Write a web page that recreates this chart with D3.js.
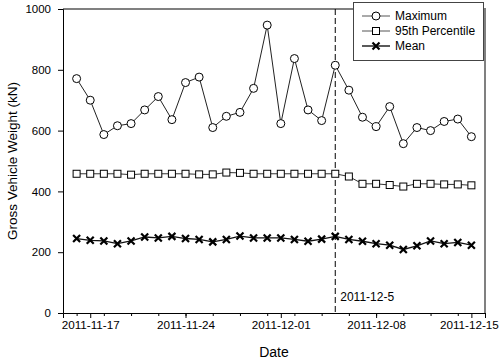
<!DOCTYPE html>
<html><head><meta charset="utf-8">
<script src="https://cdn.jsdelivr.net/npm/d3@7"></script>
<style>body{margin:0;background:#fff}svg{font-family:"Liberation Sans",Arial,sans-serif}</style>
</head><body><svg id="c" width="500" height="361"></svg>
<script>
const startDate = "2011-11-16";
const maximum = [771,700,587,616,623,668,712,636,758,776,610,647,660,739,947,623,837,668,633,815,733,644,613,679,557,610,600,630,638,580];
const p95 = [458,458,458,458,455,458,458,458,458,456,456,462,461,458,458,458,458,458,458,458,449,425,425,421,416,425,425,423,423,420];
const mean = [245,239,237,228,237,250,247,252,245,242,234,242,253,247,247,247,242,236,243,252,242,236,228,223,209,221,237,228,232,223];
const majorTickLabels = ["2011-11-17","2011-11-24","2011-12-01","2011-12-08","2011-12-15"];
const yTicks = [0,200,400,600,800,1000];
const eventDate = "2011-12-05";
const legendLabels = ["Maximum","95th Percentile","Mean"];

const parse = d3.timeParse("%Y-%m-%d");
const t0 = parse(startDate);
const dates = maximum.map((_, i) => d3.timeDay.offset(t0, i));
const svg = d3.select("#c");
const L = 63, R = 485, T = 9, B = 313;
const x = d3.scaleTime().domain([parse("2011-11-15"), parse("2011-12-16")]).range([L, R]);
const y = d3.scaleLinear().domain([0, 1000]).range([B, T]);

// frame top/right (grey)
svg.append("line").attr("x1", L).attr("x2", R).attr("y1", T).attr("y2", T).attr("stroke", "#808080").attr("stroke-width", 2);
svg.append("line").attr("x1", R).attr("x2", R).attr("y1", T - 1).attr("y2", B).attr("stroke", "#808080").attr("stroke-width", 2);

// y axis
const ya = svg.append("g").attr("transform", `translate(${L},0)`)
  .call(d3.axisLeft(y).tickValues(yTicks).tickSize(5).tickPadding(7).tickFormat(d3.format("d")));
ya.select(".domain").attr("stroke", "#000");
ya.selectAll("text").attr("font-size", 11.5).attr("font-family", "Liberation Sans, Arial").attr("fill", "#000");

// x axis minor ticks
const minor = d3.timeDay.range(parse("2011-11-16"), parse("2011-12-17"), 2);
const xm = svg.append("g").attr("transform", `translate(0,${B})`)
  .call(d3.axisBottom(x).tickValues(minor).tickSize(3).tickFormat(""));
xm.select(".domain").remove();
const majors = majorTickLabels.map(parse);
const xa = svg.append("g").attr("transform", `translate(0,${B})`)
  .call(d3.axisBottom(x).tickValues(majors).tickSize(5).tickPadding(3).tickFormat(d3.timeFormat("%Y-%m-%d")));
xa.select(".domain").attr("stroke", "#000");
xa.selectAll("text").attr("font-size", 11.7).attr("font-family", "Liberation Sans, Arial").attr("fill", "#000");
xa.selectAll(".tick:last-of-type text").attr("dx", -2.5);

// axis titles
svg.append("text").attr("x", 274).attr("y", 357).attr("text-anchor", "middle").attr("font-size", 14).text("Date");
svg.append("text").attr("transform", `translate(17,${(T + B) / 2}) rotate(-90)`).attr("text-anchor", "middle").attr("font-size", 13.5).text("Gross Vehicle Weight (kN)");

// event line
const ex = x(parse(eventDate));
svg.append("line").attr("x1", ex).attr("x2", ex).attr("y1", T).attr("y2", B).attr("stroke", "#000").attr("stroke-width", 1).attr("stroke-dasharray", "6,3");
svg.append("text").attr("x", ex + 5).attr("y", 301).attr("font-size", 12).text("2011-12-5");

const line = d3.line().x((d, i) => x(dates[i])).y(d => y(d));
function series(vals, color, w) {
  svg.append("path").datum(vals).attr("d", line).attr("fill", "none").attr("stroke", color).attr("stroke-width", w);
}
series(maximum, "#222", 1);
series(p95, "#333", 1);
series(mean, "#111", 1.3);

function circle(g, cx, cy) { g.append("circle").attr("cx", cx).attr("cy", cy).attr("r", 4).attr("fill", "#fff").attr("stroke", "#000").attr("stroke-width", 1); }
function square(g, cx, cy) { g.append("rect").attr("x", cx - 3.5).attr("y", cy - 3.5).attr("width", 7).attr("height", 7).attr("fill", "#fff").attr("stroke", "#000").attr("stroke-width", 1); }
function cross(g, cx, cy) { g.append("path").attr("d", `M${cx-3.5},${cy-3.5}L${cx+3.5},${cy+3.5}M${cx-3.5},${cy+3.5}L${cx+3.5},${cy-3.5}`).attr("stroke", "#000").attr("stroke-width", 2.2); }

const gm = svg.append("g");
maximum.forEach((v, i) => circle(gm, x(dates[i]), y(v)));
p95.forEach((v, i) => square(gm, x(dates[i]), y(v)));
mean.forEach((v, i) => cross(gm, x(dates[i]), y(v)));

// legend
const lg = svg.append("g");
lg.append("rect").attr("x", 353.5).attr("y", 2.5).attr("width", 130).attr("height", 58).attr("fill", "#fff").attr("stroke", "#444").attr("stroke-width", 1);
const markers = [circle, square, cross];
const colors = ["#555", "#555", "#000"];
legendLabels.forEach((lab, i) => {
  const yy = 16 + i * 15;
  lg.append("line").attr("x1", 362).attr("x2", 390).attr("y1", yy).attr("y2", yy).attr("stroke", colors[i]).attr("stroke-width", i === 2 ? 1.3 : 1);
  markers[i](lg, 376, yy);
  lg.append("text").attr("x", 395).attr("y", yy + 4).attr("font-size", 12).text(lab);
});
</script></body></html>
